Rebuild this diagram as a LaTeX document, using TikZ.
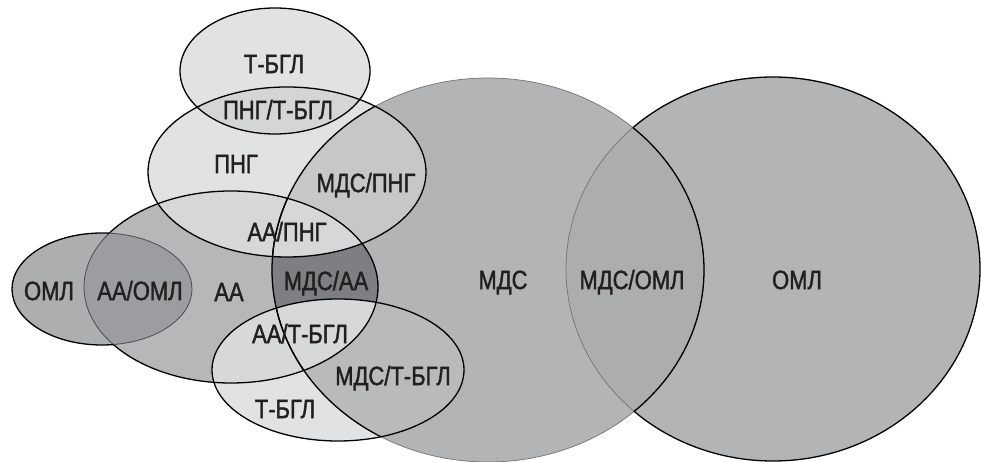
\documentclass[tikz,border=0pt]{standalone}
\usepackage{fontspec}
\setmainfont{Liberation Sans}[FakeStretch=0.83,FakeBold=1.5]
\definecolor{cLight}{HTML}{E1E2E4}
\definecolor{cPT}{HTML}{D4D5D7}
\definecolor{cAP}{HTML}{D6D7D9}
\definecolor{cMP}{HTML}{C6C7C9}
\definecolor{cBig}{HTML}{B3B4B6}
\definecolor{cMO}{HTML}{ACADAF}
\definecolor{cAA}{HTML}{B6B7B9}
\definecolor{cOs}{HTML}{ADAEB0}
\definecolor{cAO}{HTML}{9C9DA0}
\definecolor{cMA}{HTML}{7E7F82}
\definecolor{cAT}{HTML}{D7D8DA}
\definecolor{cMT}{HTML}{B9BABC}
\definecolor{cTxt}{HTML}{231F20}
\begin{document}
\begin{tikzpicture}[x=1pt,y=1pt,
  lbl/.style={font=\fontsize{26.5}{30}\selectfont, inner sep=0pt, text height=18.2pt, text depth=0pt, text=cTxt},
  outl/.style={draw=black, line width=1.3pt},
  thinl/.style={draw=black!55, line width=0.7pt},
  innerl/.style={draw=black!70, line width=0.8pt}]
\useasboundingbox (0,0) rectangle (981,462);
\def\pMDS{(488,192) ellipse [x radius=216, y radius=192]}
\def\pOML{(773,193) ellipse [x radius=207, y radius=192]}
\def\pAA{(231,175) ellipse [x radius=147, y radius=96]}
\def\pOMLs{(102,173) ellipse [x radius=90, y radius=56]}
\def\pPNG{(287,290) ellipse [x radius=139, y radius=85]}
\def\pTa{(275,391) ellipse [x radius=95, y radius=63]}
\def\pTb{(338,92) ellipse [x radius=126, y radius=71]}
\def\pRect{(-10,-10) -- (-10,472) -- (991,472) -- (991,-10) -- cycle}
% fills
\fill[cBig] \pMDS;
\fill[cBig] \pOML;
\begin{scope}\clip \pMDS; \fill[cMO] \pOML;\end{scope}
\fill[cAA] \pAA;
\fill[cOs] \pOMLs;
\begin{scope}\clip \pAA; \fill[cAO] \pOMLs;\end{scope}
\begin{scope}\clip \pAA; \fill[cMA] \pMDS;\end{scope}
\fill[cLight] \pPNG;
\begin{scope}\clip \pPNG; \fill[cMP] \pMDS; \fill[cAP] \pAA;\end{scope}
\fill[cLight] \pTa;
\begin{scope}\clip \pTa; \fill[cPT] \pPNG;\end{scope}
\fill[cLight] \pTb;
\begin{scope}\clip \pTb; \fill[cMT] \pMDS; \fill[cAT] \pAA;\end{scope}
% outlines
\draw[thinl] \pMDS;
\begin{scope}\clip \pAA; \draw[outl] \pMDS;\end{scope}
\begin{scope}\clip \pPNG; \draw[outl] \pMDS;\end{scope}
\begin{scope}\clip \pTb; \draw[outl] \pMDS;\end{scope}
\begin{scope}\clip \pOML; \draw[outl] \pMDS;\end{scope}
\begin{scope}\clip \pMDS; \draw[thinl] \pOML;\end{scope}
\begin{scope}[even odd rule]\clip \pRect \pMDS; \draw[outl] \pOML;\end{scope}
\begin{scope}\clip \pOMLs; \draw[innerl] \pAA;\end{scope}
\begin{scope}[even odd rule]\clip \pRect \pOMLs; \draw[outl] \pAA;\end{scope}
\begin{scope}\clip \pAA; \draw[innerl] \pOMLs;\end{scope}
\begin{scope}[even odd rule]\clip \pRect \pAA; \draw[outl] \pOMLs;\end{scope}
\draw[outl] \pPNG;
\draw[outl] \pTa;
\draw[outl] \pTb;
% labels
\node[lbl] (t1) at (274,398) {Т-БГЛ};
\node[lbl] (pt) at (278,352) {ПНГ/Т-БГЛ};
\node[lbl] (png) at (236,298) {ПНГ};
\node[lbl] (mp) at (366,279) {МДС/ПНГ};
\node[lbl] (ap) at (287,230) {АА/ПНГ};
\node[lbl] (os) at (49,171) {ОМЛ};
\node[lbl] (ao) at (140,171) {АА/ОМЛ};
\node[lbl] (aa) at (229,170) {АА};
\node[lbl] (ma) at (326,181) {МДС/АА};
\node[lbl] (at) at (300,128) {АА/Т-БГЛ};
\node[lbl] (mt) at (393,86) {МДС/Т-БГЛ};
\node[lbl] (t2) at (285,53) {Т-БГЛ};
\node[lbl] (mds) at (503,182) {МДС};
\node[lbl] (mo) at (632,182) {МДС/ОМЛ};
\node[lbl] (oml) at (797,182) {ОМЛ};
\end{tikzpicture}
\end{document}
